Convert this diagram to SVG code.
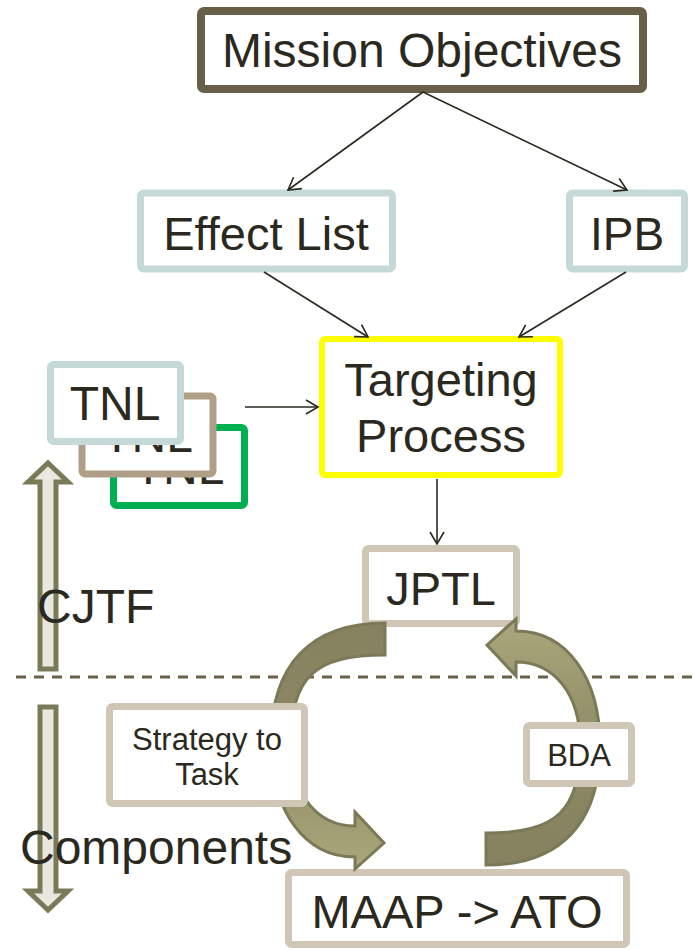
<svg xmlns="http://www.w3.org/2000/svg" xmlns:xlink="http://www.w3.org/1999/xlink" width="694" height="951" viewBox="0 0 694 951">
<style>
text{font-family:"Liberation Sans",Arial,sans-serif;fill:#2b2820;text-anchor:middle}
.big{font-size:47px}
.small{font-size:31px}
.box{fill:#fff;stroke-width:7}
.blue{stroke:#c5d9d9}
.beige{stroke:#d0c6b6}
.conn{stroke:#2b2820;stroke-width:1.6;fill:none;marker-end:url(#ah)}
.ext{fill:#e8e8e0;stroke:#7b7a58;stroke-width:5;stroke-linejoin:miter}
</style>
<defs>
<marker id="ah" markerUnits="userSpaceOnUse" markerWidth="20" markerHeight="20" viewBox="-14 -10 16 20" refX="0" refY="0" orient="auto">
<path d="M-12,-7 L0,0 L-12,7" fill="none" stroke="#2b2820" stroke-width="1.6"/>
</marker>
<linearGradient id="g" x1="0" y1="0" x2="0" y2="1">
<stop offset="0" stop-color="#868260"/>
<stop offset="0.45" stop-color="#8c8864"/>
<stop offset="1" stop-color="#aaa77b"/>
</linearGradient>
<path id="ca" d="M385,623 C310.5,623 271,665 271,742 C271,811 304.6,857 355,857 L355,869 L384,843 L355,812 L355,826 C317,826 291,794 291,745 C291,677 314,655 385,655 Z" fill="url(#g)" stroke="#7b7957" stroke-width="3" stroke-linejoin="miter"/>
</defs>
<rect width="694" height="951" fill="#fff"/>

<g id="divider">
<line x1="16" y1="677" x2="692" y2="677" stroke="#6b6149" stroke-width="3" stroke-dasharray="10 8"/>
</g>

<g id="scope-arrows">
<polygon class="ext" points="48,463 68,482 56,482 56,669 40,669 40,482 28,482"/>
<polygon class="ext" points="40,707 56,707 56,891 68,891 48,910 28,891 40,891"/>
<text x="37" y="623" style="text-anchor:start;font-size:48px">CJTF</text>
<text x="20" y="864" style="text-anchor:start;font-size:48px">Components</text>
</g>

<g id="mission-objectives">
<rect x="201" y="11" width="442" height="78" rx="3" fill="#fff" stroke="#685f48" stroke-width="8"/>
<text x="422" y="67" style="font-size:48px">Mission Objectives</text>
</g>

<g id="effect-list">
<rect class="box blue" x="140.5" y="193" width="252" height="76" rx="3"/>
<text x="266" y="250" style="font-size:47px">Effect List</text>
</g>

<g id="ipb">
<rect class="box blue" x="569.5" y="193" width="115" height="76" rx="3"/>
<text x="627" y="250" style="font-size:46px">IPB</text>
</g>

<g id="tnl-3">
<rect class="box" x="113.5" y="427.5" width="131" height="78" rx="3" stroke="#00b050"/>
<text x="179" y="484" style="font-size:48px">TNL</text>
</g>
<g id="tnl-2">
<rect class="box" x="82" y="396" width="131" height="78" rx="3" stroke="#b09f87"/>
<text x="147.5" y="452" style="font-size:48px">TNL</text>
</g>
<g id="tnl-1">
<rect class="box blue" x="50.5" y="364.5" width="130" height="77" rx="3"/>
<text x="115" y="420" style="font-size:48px">TNL</text>
</g>

<g id="targeting-process">
<rect x="322" y="339" width="238" height="136" rx="3" fill="#fff" stroke="#ffff00" stroke-width="6"/>
<text x="441" y="396" class="big">Targeting</text>
<text x="441" y="452" class="big">Process</text>
</g>

<g id="jptl">
<rect class="box beige" x="365.5" y="548.5" width="151" height="75" rx="3"/>
<text x="441" y="605" class="big">JPTL</text>
</g>

<g id="maap-ato">
<rect class="box beige" x="288.5" y="872.5" width="338" height="72" rx="3"/>
<text x="457" y="928" class="big">MAAP -&gt; ATO</text>
</g>

<g id="cycle-arrows">
<use xlink:href="#ca"/>
<use xlink:href="#ca" transform="rotate(180 435.5 744)"/>
</g>

<g id="strategy-to-task">
<rect class="box beige" x="109.5" y="706.5" width="195" height="97" rx="3"/>
<text x="207" y="750" class="small">Strategy to</text>
<text x="207" y="785" class="small">Task</text>
</g>

<g id="bda">
<rect class="box beige" x="526.5" y="725.5" width="105" height="58" rx="3"/>
<text x="579" y="766" class="small">BDA</text>
</g>

<g id="connectors">
<line class="conn" x1="423" y1="92" x2="288" y2="190"/>
<line class="conn" x1="423" y1="92" x2="627" y2="190"/>
<line class="conn" x1="264" y1="272" x2="368" y2="337"/>
<line class="conn" x1="626" y1="272" x2="519" y2="337"/>
<line class="conn" x1="245" y1="407" x2="318" y2="407"/>
<line class="conn" x1="437" y1="479" x2="437" y2="544"/>
</g>
</svg>
